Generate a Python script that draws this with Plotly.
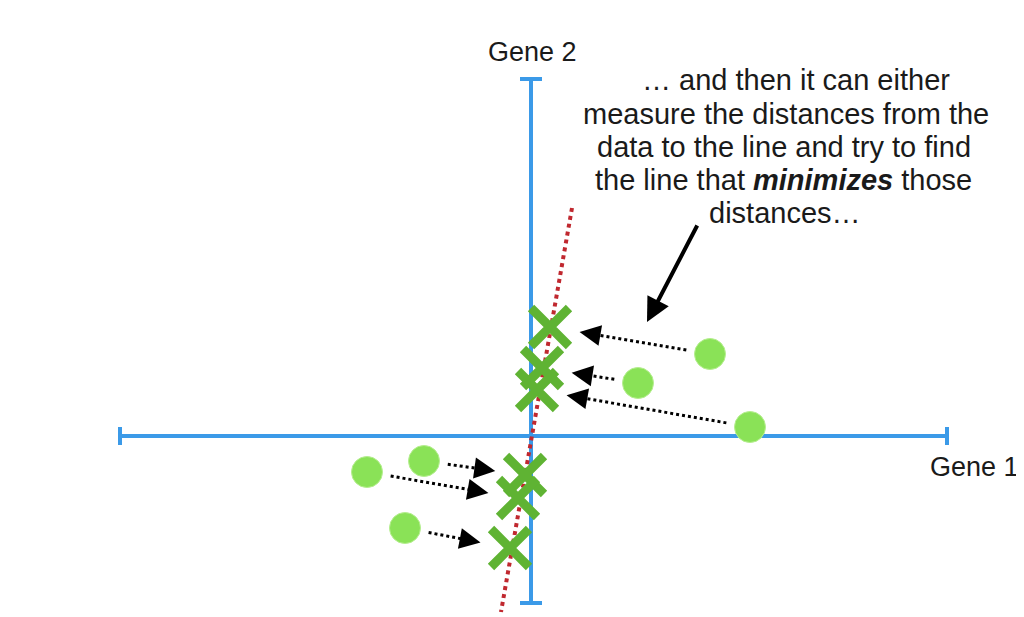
import plotly.graph_objects as go

# ---- data (units: 1 unit = 100 px, origin at the axes crossing) ----
axis_x_extent = [-4.11, 4.16]      # Gene 1 axis ends
axis_y_extent = [-1.67, 3.57]      # Gene 2 axis ends

pts_x = [1.79, 1.07, 2.19, -1.07, -1.64, -1.26]
pts_y = [0.82, 0.53, 0.09, -0.25, -0.36, -0.92]

proj_x = [0.19, 0.11, 0.06, -0.06, -0.13, -0.21]
proj_y = [1.09, 0.68, 0.46, -0.39, -0.62, -1.12]

fit_line_x = [0.41, -0.30]
fit_line_y = [2.28, -1.76]

pointer_from = (1.67, 2.12)
pointer_to = (1.16, 1.14)

paragraph = [
    "… and then it can either",
    "measure the distances from the",
    "data to the line and try to find",
    "the line that <b><i>minimizes</i></b> those",
    "distances…",
]
para_x = [2.65, 2.55, 2.53, 2.52, 2.54]
para_y = [3.56, 3.22, 2.89, 2.56, 2.23]

gene2_pos = (0.01, 3.84)
gene1_pos = (4.43, -0.31)

BLUE = "#3b9ae8"
RED = "#c0282f"
LIGHT_GREEN = "#8ae257"
DARK_GREEN = "#5fb333"
FONT = "Liberation Sans, Arial, Helvetica, sans-serif"

# page body has an 8px margin; the figure is sized/ranged to compensate
W, H = 1016, 609
x_range = [-5.23, 4.93]
y_range = [-1.81, 4.28]

fig = go.Figure()

# axes with end caps
cap_h = 0.09
cap_v = 0.11
fig.add_trace(go.Scatter(x=axis_x_extent, y=[0, 0], mode="lines",
                         line=dict(color=BLUE, width=4), hoverinfo="skip"))
for xe in axis_x_extent:
    fig.add_trace(go.Scatter(x=[xe, xe], y=[-cap_h, cap_h], mode="lines",
                             line=dict(color=BLUE, width=4), hoverinfo="skip"))
fig.add_trace(go.Scatter(x=[0, 0], y=axis_y_extent, mode="lines",
                         line=dict(color=BLUE, width=4), hoverinfo="skip"))
for ye in axis_y_extent:
    fig.add_trace(go.Scatter(x=[-cap_v, cap_v], y=[ye, ye], mode="lines",
                             line=dict(color=BLUE, width=4), hoverinfo="skip"))

# fitted (candidate) line
fig.add_trace(go.Scatter(x=fit_line_x, y=fit_line_y, mode="lines",
                         line=dict(color=RED, width=4, dash="dot"), hoverinfo="skip"))

# dotted arrows from points to projections
start_gap = 0.24
end_gap = 0.30
arrow_tips = []
for px, py, qx, qy in zip(pts_x, pts_y, proj_x, proj_y):
    dx, dy = qx - px, qy - py
    d = (dx ** 2 + dy ** 2) ** 0.5
    ux, uy = dx / d, dy / d
    sx, sy = px + ux * start_gap, py + uy * start_gap
    ex, ey = qx - ux * end_gap, qy - uy * end_gap
    fig.add_trace(go.Scatter(x=[sx, ex - ux * 0.08], y=[sy, ey - uy * 0.08], mode="lines",
                             line=dict(color="black", width=3, dash="dot"),
                             hoverinfo="skip"))
    arrow_tips.append((ex, ey, ux, uy))

# projections (X marks)
fig.add_trace(go.Scatter(x=proj_x, y=proj_y, mode="markers",
                         marker=dict(symbol="x-thin", size=38, color=DARK_GREEN,
                                     line=dict(color=DARK_GREEN, width=9)),
                         hoverinfo="skip"))

# data points
fig.add_trace(go.Scatter(x=pts_x, y=pts_y, mode="markers",
                         marker=dict(symbol="circle", size=31, color=LIGHT_GREEN,
                                     line=dict(color="#b5ee8f", width=1)),
                         hoverinfo="skip"))

annotations = []
for ex, ey, ux, uy in arrow_tips:
    annotations.append(dict(x=ex, y=ey, xref="x", yref="y",
                            ax=ex - ux * 0.1, ay=ey - uy * 0.1, axref="x", ayref="y",
                            showarrow=True, arrowhead=2, arrowsize=1.4, arrowwidth=3,
                            arrowcolor="black", text=""))

annotations.append(dict(x=pointer_to[0], y=pointer_to[1], xref="x", yref="y",
                        ax=pointer_from[0], ay=pointer_from[1], axref="x", ayref="y",
                        showarrow=True, arrowhead=2, arrowsize=1.2, arrowwidth=4,
                        arrowcolor="black", text=""))

for txt, cx, cy in zip(paragraph, para_x, para_y):
    annotations.append(dict(x=cx, y=cy, xref="x", yref="y",
                            text=txt, showarrow=False, xanchor="center", yanchor="middle",
                            font=dict(family=FONT, size=29, color="#1a1a1a")))

annotations.append(dict(x=gene2_pos[0], y=gene2_pos[1], xref="x", yref="y",
                        text="Gene 2", showarrow=False, xanchor="center", yanchor="middle",
                        font=dict(family=FONT, size=27, color="#1a1a1a")))
annotations.append(dict(x=gene1_pos[0], y=gene1_pos[1], xref="x", yref="y",
                        text="Gene 1", showarrow=False, xanchor="center", yanchor="middle",
                        font=dict(family=FONT, size=27, color="#1a1a1a")))

fig.update_layout(
    width=W, height=H,
    margin=dict(l=0, r=0, t=0, b=0),
    paper_bgcolor="white", plot_bgcolor="white",
    showlegend=False,
    xaxis=dict(range=x_range, visible=False, fixedrange=True),
    yaxis=dict(range=y_range, visible=False, fixedrange=True),
    annotations=annotations,
)

fig.write_html("out.html")
